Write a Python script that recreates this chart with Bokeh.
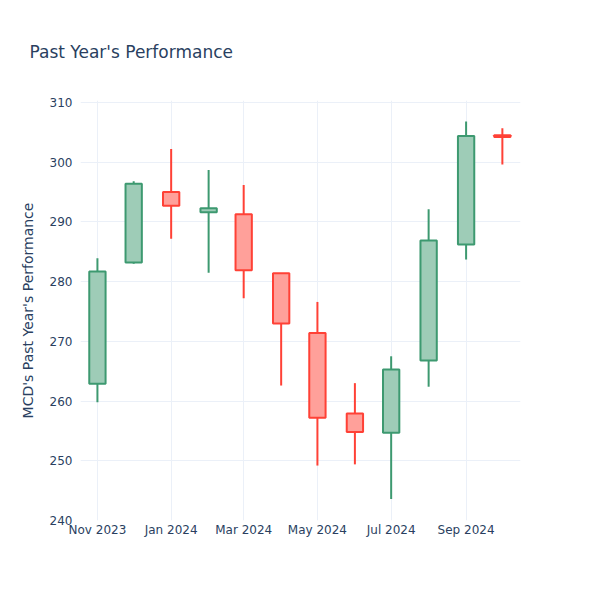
import pandas as pd
from bokeh.plotting import figure
from bokeh.models import FixedTicker, Range1d
from bokeh.embed import file_html
from bokeh.resources import INLINE

dates = ["2023-11-01", "2023-12-01", "2024-01-01", "2024-02-01", "2024-03-01", "2024-04-01",
         "2024-05-01", "2024-06-01", "2024-07-01", "2024-08-01", "2024-09-01", "2024-10-01"]
opens = [262.9, 283.2, 295.0, 291.6, 291.3, 281.4, 271.4, 257.9, 254.7, 266.8, 286.2, 304.5]
highs = [283.9, 296.8, 302.2, 298.7, 296.2, 281.4, 276.6, 263.0, 267.5, 292.1, 306.8, 305.7]
lows = [259.8, 283.0, 287.2, 281.5, 277.2, 262.6, 249.2, 249.4, 243.6, 262.4, 283.7, 299.6]
closes = [281.7, 296.4, 292.7, 292.3, 281.9, 273.0, 257.2, 254.8, 265.3, 286.9, 304.4, 304.2]
tick_dates = ["2023-11-01", "2024-01-01", "2024-03-01", "2024-05-01", "2024-07-01", "2024-09-01"]
tick_labels = ["Nov 2023", "Jan 2024", "Mar 2024", "May 2024", "Jul 2024", "Sep 2024"]
y_ticks = [240, 250, 260, 270, 280, 290, 300, 310]

def ms(d):
    return pd.Timestamp(d).value // 10**6

DAY = 86400000
xs = [ms(d) for d in dates]

INC_LINE, INC_FILL = "#3D9970", "#9ECCB7"
DEC_LINE, DEC_FILL = "#FF4136", "#FFA09A"
TXT = "#2a3f5f"
GRID = "#EBF0F8"
FONT = "DejaVu Sans"

p = figure(width=600, height=600, output_backend="svg", toolbar_location=None,
           x_range=Range1d(ms("2023-10-18"), ms("2024-10-16")),
           y_range=Range1d(240, 310.33),
           min_border_left=80, min_border_right=80, min_border_top=100, min_border_bottom=80)
p.outline_line_color = None
p.background_fill_color = "white"
p.border_fill_color = "white"

for i in range(len(xs)):
    up = closes[i] >= opens[i]
    lc = INC_LINE if up else DEC_LINE
    fc = INC_FILL if up else DEC_FILL
    p.segment(x0=[xs[i]], y0=[lows[i]], x1=[xs[i]], y1=[highs[i]], line_color=lc, line_width=2)
    p.vbar(x=[xs[i]], width=13.5 * DAY, top=[max(opens[i], closes[i])], bottom=[min(opens[i], closes[i])],
           fill_color=fc, line_color=lc, line_width=2)

p.xaxis.ticker = FixedTicker(ticks=[ms(d) for d in tick_dates])
p.xaxis.major_label_overrides = {ms(d): l for d, l in zip(tick_dates, tick_labels)}
p.yaxis.ticker = FixedTicker(ticks=y_ticks)

for ax in [p.xaxis[0], p.yaxis[0]]:
    ax.axis_line_color = None
    ax.major_tick_line_color = None
    ax.minor_tick_line_color = None
    ax.major_label_text_color = TXT
    ax.major_label_text_font = FONT
    ax.major_label_text_font_size = "12px"
p.xaxis.major_label_standoff = -4
p.yaxis.major_label_standoff = 2

p.yaxis.axis_label = "MCD's Past Year's Performance"
p.yaxis.axis_label_text_font = FONT
p.yaxis.axis_label_text_font_size = "14px"
p.yaxis.axis_label_text_font_style = "normal"
p.yaxis.axis_label_text_color = TXT
p.yaxis.axis_label_standoff = 11

p.grid.grid_line_color = GRID
p.grid.grid_line_width = 1

p.title.text = "Past Year's Performance"
p.title.text_font = FONT
p.title.text_font_size = "17px"
p.title.text_font_style = "normal"
p.title.text_color = TXT
p.title.align = "left"
p.title.offset = -51
p.title.standoff = 78

open("out.html", "w").write(file_html(p, INLINE))
